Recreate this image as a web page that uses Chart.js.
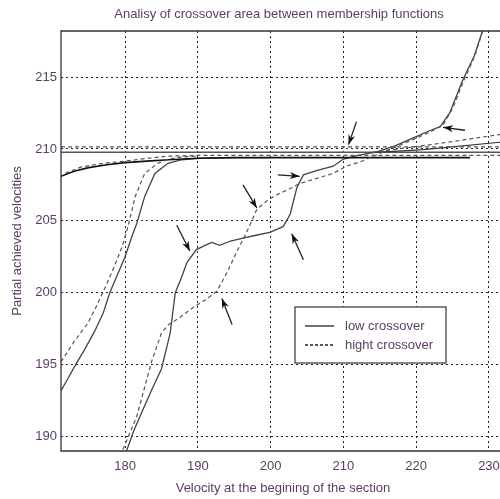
<!DOCTYPE html>
<html>
<head>
<meta charset="utf-8">
<script src="https://cdn.jsdelivr.net/npm/chart.js@4"></script>
<style>
  body { margin: 0; overflow: hidden; background: #fff; }
  #wrap { width: 510px; height: 499px; }
</style>
</head>
<body>
<div id="wrap"><canvas id="chart" width="510" height="499"></canvas></div>
<script>
// axis ranges and ticks
var xMin = 171.2, xMax = 232.2;
var yMin = 189.0, yMax = 218.2;
var xTicks = [180, 190, 200, 210, 220, 230];
var yTicks = [190, 195, 200, 205, 210, 215];

// low crossover (solid) curves
var lowA_x = [171.2, 173, 175, 177.5, 180, 183, 186, 190, 195, 200, 210, 220, 227.4];
var lowA_y = [208.1, 208.45, 208.7, 208.9, 209.05, 209.15, 209.25, 209.35, 209.4, 209.4, 209.4, 209.4, 209.4];
var lowB_x = [171.2, 172, 173.1, 174.5, 175.9, 177, 177.9, 179, 180, 181, 181.6, 182.7, 184.1, 185.9, 187.8, 190, 195, 200];
var lowB_y = [193.2, 193.9, 194.9, 196.1, 197.4, 198.6, 200.0, 201.3, 202.5, 204.0, 204.8, 206.7, 208.3, 209.0, 209.25, 209.35, 209.4, 209.4];
var lowC_x = [180.2, 181.2, 182.3, 183.7, 185, 186.2, 186.9, 187.7, 188.5, 189.8, 191, 191.9, 193, 194.5, 196.2, 198, 199.9, 201.7, 202.3, 202.7, 203.6, 204.5, 206.3, 208.6, 210, 212, 214.6, 217, 220, 222, 223.3, 224.6, 226.4, 228, 229.1];
var lowC_y = [189.0, 190.4, 191.7, 193.3, 194.7, 197.2, 200.0, 201.0, 202.1, 203.0, 203.3, 203.5, 203.3, 203.6, 203.8, 204.0, 204.2, 204.6, 205.1, 205.5, 207.3, 208.2, 208.5, 208.8, 209.3, 209.55, 209.8, 210.2, 210.85, 211.3, 211.55, 212.5, 214.8, 216.5, 218.2];
var lowD_x = [214, 221, 232.2];
var lowD_y = [209.75, 209.95, 210.5];
var lowLevel = 209.77;

// hight crossover (dashed) curves
var highA_x = [171.8, 174, 177, 180, 183, 186, 190, 200, 232.2];
var highA_y = [208.3, 208.75, 209.0, 209.15, 209.35, 209.5, 209.55, 209.55, 209.55];
var highB_x = [171.2, 173, 174.9, 176, 177.3, 178.5, 179.6, 180.4, 181.4, 182.7, 184.5, 186, 188, 190];
var highB_y = [195.2, 196.6, 197.9, 199.0, 200.4, 201.8, 203.2, 204.6, 206.7, 208.3, 209.0, 209.3, 209.45, 209.5];
var highC_x = [179.7, 181.6, 183.7, 185, 186, 187.3, 189.4, 191, 192.6, 194, 195.3, 196.7, 198.1, 199.5, 200.8, 202.5, 204, 206, 208.6, 210.4, 212.3, 214.6, 217, 220, 222, 223.7, 225, 226.4, 228, 229.2];
var highC_y = [189.1, 191.4, 195.3, 197.2, 197.8, 198.2, 199.0, 199.5, 200.1, 201.4, 202.8, 204.2, 205.8, 206.4, 206.8, 207.2, 207.6, 207.9, 208.3, 208.8, 209.1, 209.6, 210.1, 210.75, 211.2, 211.67, 212.8, 214.6, 216.4, 218.3];
var highD_x = [213, 222, 232.2];
var highD_y = [209.7, 210.3, 211.05];
var highLevel = 210.15;

// annotation arrows: tail x, tail y, head x, head y
var arrowTailX = [211.8, 226.7, 201.0, 196.2, 187.1, 204.5, 194.7];
var arrowTailY = [211.9, 211.3, 208.2, 207.5, 204.7, 202.3, 197.8];
var arrowHeadX = [210.7, 223.7, 204.0, 198.1, 188.9, 202.9, 193.3];
var arrowHeadY = [210.3, 211.5, 208.1, 205.9, 202.9, 204.1, 199.6];

var legendLabels = ['low crossover', 'hight crossover'];

var textColor = '#5b3d63';
var font = 'Liberation Sans, Arial, sans-serif';

function pts(xs, ys) {
    return xs.map(function (x, i) { return { x: x, y: ys[i] }; });
}

function solid(xs, ys, color, w) {
    return { data: pts(xs, ys), borderColor: color, borderWidth: w, pointRadius: 0, tension: 0, fill: false };
}
function dashed(xs, ys) {
    return { data: pts(xs, ys), borderColor: '#555', borderWidth: 1.2, borderDash: [4, 3], pointRadius: 0, tension: 0, fill: false };
}

var decor = {
    id: 'decor',
    afterDatasetsDraw: function (chart) {
        var ctx = chart.ctx, a = chart.chartArea;
        var sx = chart.scales.x, sy = chart.scales.y;
        ctx.save();
        // frame (right side is outside the window)
        ctx.strokeStyle = '#333';
        ctx.lineWidth = 1.3;
        ctx.setLineDash([]);
        ctx.beginPath();
        ctx.moveTo(a.right + 10, a.top);
        ctx.lineTo(a.left, a.top);
        ctx.lineTo(a.left, a.bottom);
        ctx.lineTo(a.right + 10, a.bottom);
        ctx.stroke();

        // arrows
        ctx.strokeStyle = '#222';
        ctx.fillStyle = '#111';
        ctx.lineWidth = 1.3;
        for (var i = 0; i < arrowTailX.length; i++) {
            var x1 = sx.getPixelForValue(arrowTailX[i]), y1 = sy.getPixelForValue(arrowTailY[i]);
            var x2 = sx.getPixelForValue(arrowHeadX[i]), y2 = sy.getPixelForValue(arrowHeadY[i]);
            var ang = Math.atan2(y2 - y1, x2 - x1);
            ctx.beginPath();
            ctx.moveTo(x1, y1);
            ctx.lineTo(x2, y2);
            ctx.stroke();
            ctx.beginPath();
            ctx.moveTo(x2, y2);
            ctx.lineTo(x2 - 10 * Math.cos(ang) + 3.5 * Math.sin(ang), y2 - 10 * Math.sin(ang) - 3.5 * Math.cos(ang));
            ctx.lineTo(x2 - 7 * Math.cos(ang), y2 - 7 * Math.sin(ang));
            ctx.lineTo(x2 - 10 * Math.cos(ang) - 3.5 * Math.sin(ang), y2 - 10 * Math.sin(ang) + 3.5 * Math.cos(ang));
            ctx.closePath();
            ctx.fill();
        }

        // legend box
        ctx.fillStyle = '#fff';
        ctx.fillRect(295, 307, 151, 56);
        ctx.strokeStyle = '#444';
        ctx.lineWidth = 1.3;
        ctx.strokeRect(295, 307, 151, 56);
        ctx.lineWidth = 1.3;
        ctx.strokeStyle = '#222';
        ctx.beginPath();
        ctx.moveTo(305, 326); ctx.lineTo(334, 326);
        ctx.stroke();
        ctx.setLineDash([3, 2]);
        ctx.beginPath();
        ctx.moveTo(305, 345); ctx.lineTo(334, 345);
        ctx.stroke();
        ctx.setLineDash([]);
        ctx.fillStyle = textColor;
        ctx.font = '13px ' + font;
        ctx.textBaseline = 'middle';
        ctx.fillText(legendLabels[0], 345, 326);
        ctx.fillText(legendLabels[1], 345, 345);

        // title
        ctx.textAlign = 'center';
        ctx.fillText('Analisy of crossover area between membership functions', 279, 14);
        ctx.restore();
    }
};

new Chart(document.getElementById('chart'), {
    type: 'line',
    data: {
        datasets: [
            dashed(highA_x, highA_y),
            dashed(highB_x, highB_y),
            dashed(highC_x, highC_y),
            dashed(highD_x, highD_y),
            dashed([xMin, xMax], [highLevel, highLevel]),
            solid(lowA_x, lowA_y, '#111', 1.6),
            solid(lowB_x, lowB_y, '#444', 1.3),
            solid(lowC_x, lowC_y, '#444', 1.3),
            solid(lowD_x, lowD_y, '#333', 1.2),
            solid([xMin, xMax], [lowLevel, lowLevel], '#555', 1.3)
        ]
    },
    plugins: [decor],
    options: {
        responsive: false,
        animation: false,
        layout: { padding: { top: 31, right: 5, left: 0, bottom: 0 } },
        plugins: { legend: { display: false }, tooltip: { enabled: false } },
        scales: {
            x: {
                type: 'linear',
                min: xMin,
                max: xMax,
                afterBuildTicks: function (s) { s.ticks = xTicks.map(function (v) { return { value: v }; }); },
                afterFit: function (s) { s.height = 48; },
                grid: { color: '#222', lineWidth: 1, drawTicks: false },
                border: { display: false, dash: [2, 3] },
                ticks: { color: textColor, font: { family: font, size: 13 }, padding: 8, maxRotation: 0 },
                title: { display: true, text: 'Velocity at the begining of the section', color: textColor,
                         font: { family: font, size: 13 }, padding: { top: 0, bottom: 3 } }
            },
            y: {
                min: yMin,
                max: yMax,
                afterBuildTicks: function (s) { s.ticks = yTicks.map(function (v) { return { value: v }; }); },
                afterFit: function (s) { s.width = 61; },
                grid: { color: '#222', lineWidth: 1, drawTicks: false },
                border: { display: false, dash: [2, 3] },
                ticks: { color: textColor, font: { family: font, size: 13 }, padding: 4 },
                title: { display: true, text: 'Partial achieved velocities', color: textColor,
                         font: { family: font, size: 13 }, padding: { top: 10, bottom: 0 } }
            }
        }
    }
});
</script>
</body>
</html>
